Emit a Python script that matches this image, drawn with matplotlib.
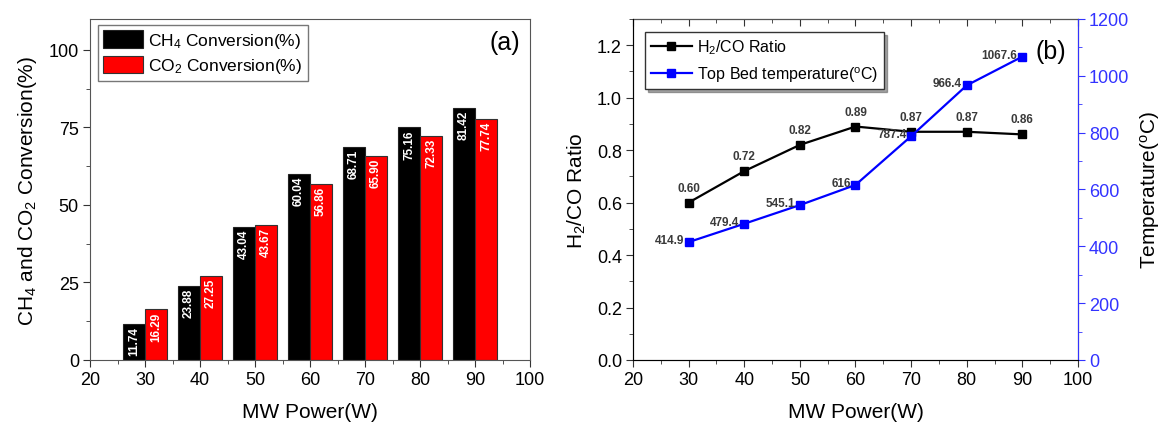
import matplotlib
matplotlib.use("Agg")
import matplotlib.pyplot as plt
from matplotlib.ticker import MultipleLocator, AutoMinorLocator, FormatStrFormatter

plt.rcParams['font.family'] = ['Liberation Sans', 'DejaVu Sans']
plt.rcParams['mathtext.fontset'] = 'custom'
plt.rcParams['mathtext.rm'] = 'Liberation Sans'
plt.rcParams['mathtext.it'] = 'Liberation Sans'

power = [30, 40, 50, 60, 70, 80, 90]
ch4_conv = [11.74, 23.88, 43.04, 60.04, 68.71, 75.16, 81.42]
co2_conv = [16.29, 27.25, 43.67, 56.86, 65.90, 72.33, 77.74]
ch4_labels = ["11.74", "23.88", "43.04", "60.04", "68.71", "75.16", "81.42"]
co2_labels = ["16.29", "27.25", "43.67", "56.86", "65.90", "72.33", "77.74"]
h2co_ratio = [0.60, 0.72, 0.82, 0.89, 0.87, 0.87, 0.86]
h2co_labels = ["0.60", "0.72", "0.82", "0.89", "0.87", "0.87", "0.86"]
top_temp = [414.9, 479.4, 545.1, 616, 787.4, 966.4, 1067.6]
temp_labels = ["414.9", "479.4", "545.1", "616", "787.4", "966.4", "1067.6"]

fig = plt.figure(figsize=(11.66, 4.27), dpi=100)
ax1 = fig.add_axes([0.0772, 0.1546, 0.3774, 0.7986])
ax2 = fig.add_axes([0.5429, 0.1546, 0.3816, 0.7986])

TICK_FS = 13
LAB_FS = 15
VAL_FS = 8.5

# ---- panel (a) ----
bw = 4
ax1.bar(power, ch4_conv, width=-bw, align='edge', color='black',
        edgecolor='#222222', linewidth=0.8, label='CH$_4$ Conversion(%)')
ax1.bar(power, co2_conv, width=bw, align='edge', color='#ff0000',
        edgecolor='#333333', linewidth=0.8, label='CO$_2$ Conversion(%)')
for x, v, t in zip(power, ch4_conv, ch4_labels):
    ax1.text(x - bw / 2, v - 0.7, t, rotation=90, ha='center', va='top',
             color='white', fontsize=VAL_FS, fontweight='bold')
for x, v, t in zip(power, co2_conv, co2_labels):
    ax1.text(x + bw / 2, v - 0.7, t, rotation=90, ha='center', va='top',
             color='white', fontsize=VAL_FS, fontweight='bold')
ax1.set_xlim(20, 100)
ax1.set_ylim(0, 110)
ax1.xaxis.set_major_locator(MultipleLocator(10))
ax1.xaxis.set_minor_locator(AutoMinorLocator(2))
ax1.yaxis.set_major_locator(MultipleLocator(25))
ax1.yaxis.set_minor_locator(AutoMinorLocator(2))
ax1.tick_params(which='both', direction='out', labelsize=TICK_FS, color='#333333',
                pad=3)
ax1.tick_params(which='major', length=5)
ax1.tick_params(which='minor', length=3)
ax1.set_xlabel('MW Power(W)', fontsize=LAB_FS, labelpad=10)
ax1.set_ylabel('CH$_4$ and CO$_2$ Conversion(%)', fontsize=LAB_FS, labelpad=7)
for s in ax1.spines.values():
    s.set_color('#555555')
leg1 = ax1.legend(loc='upper left', bbox_to_anchor=(0.018, 0.982), fontsize=12.5,
                  handlelength=2.3, handleheight=1.15, frameon=True, fancybox=False,
                  edgecolor='#555555', borderpad=0.3, labelspacing=0.35,
                  handletextpad=0.3, borderaxespad=0)
leg1.get_frame().set_linewidth(1.0)
ax1.text(0.943, 0.932, '(a)', transform=ax1.transAxes, fontsize=18,
         ha='center', va='center')

# ---- panel (b) ----
l1, = ax2.plot(power, h2co_ratio, color='black', marker='s', markersize=6,
               linewidth=1.6, label='H$_2$/CO Ratio')
for x, v, t in zip(power, h2co_ratio, h2co_labels):
    ax2.annotate(t, (x, v), xytext=(0, 6.5), textcoords='offset points',
                 ha='center', va='bottom', fontsize=VAL_FS, color='#3a3a3a',
                 fontweight='bold')
ax2.set_xlim(20, 100)
ax2.set_ylim(0, 1.3)
ax2.xaxis.set_major_locator(MultipleLocator(10))
ax2.xaxis.set_minor_locator(AutoMinorLocator(2))
ax2.yaxis.set_major_locator(MultipleLocator(0.2))
ax2.yaxis.set_minor_locator(AutoMinorLocator(2))
ax2.yaxis.set_major_formatter(FormatStrFormatter('%.1f'))
ax2.tick_params(which='both', direction='out', labelsize=TICK_FS, color='#333333',
                pad=3)
ax2.tick_params(which='major', length=5)
ax2.tick_params(which='minor', length=3)
ax2.set_xlabel('MW Power(W)', fontsize=LAB_FS, labelpad=10)
ax2.set_ylabel('H$_2$/CO Ratio', fontsize=LAB_FS, labelpad=6)

ax3 = ax2.twinx()
l2, = ax3.plot(power, top_temp, color='#0000ff', marker='s', markersize=6,
               linewidth=1.6, label='Top Bed temperature($^{\\mathrm{o}}$C)')
for x, v, t in zip(power, top_temp, temp_labels):
    ax3.annotate(t, (x, v), xytext=(-3.5, 1.5), textcoords='offset points',
                 ha='right', va='center', fontsize=VAL_FS, color='#3a3a3a',
                 fontweight='bold')
ax3.set_ylim(0, 1200)
ax3.yaxis.set_major_locator(MultipleLocator(200))
ax3.yaxis.set_minor_locator(AutoMinorLocator(2))
ax3.tick_params(which='both', direction='out', labelsize=TICK_FS,
                color='#3333ff', labelcolor='#3333ff', pad=3)
ax3.tick_params(which='major', length=5)
ax3.tick_params(which='minor', length=3)
ax3.spines['right'].set_color('#3333ff')
ax3.spines['top'].set_visible(False)
ax3.set_ylabel('Temperature($^{\\mathrm{o}}$C)', fontsize=LAB_FS, labelpad=6)

# top inward ticks on panel b
axt = ax2.secondary_xaxis('top')
axt.xaxis.set_major_locator(MultipleLocator(10))
axt.xaxis.set_minor_locator(AutoMinorLocator(2))
axt.tick_params(which='both', direction='in', labeltop=False, color='#333333')
axt.tick_params(which='major', length=5)
axt.tick_params(which='minor', length=3)
for s in ['left', 'bottom', 'top']:
    ax2.spines[s].set_color('#555555')

leg2 = ax3.legend(handles=[l1, l2], loc='upper left', bbox_to_anchor=(0.027, 0.962),
                  fontsize=11.5, handlelength=2.6, frameon=True, fancybox=False,
                  shadow=True, edgecolor='#333333', borderpad=0.35,
                  labelspacing=0.5, handletextpad=0.3, borderaxespad=0)
leg2.get_frame().set_linewidth(1.0)
ax3.text(0.94, 0.906, '(b)', transform=ax2.transAxes, fontsize=18,
         ha='center', va='center')

fig.savefig('out.png', dpi=100)
